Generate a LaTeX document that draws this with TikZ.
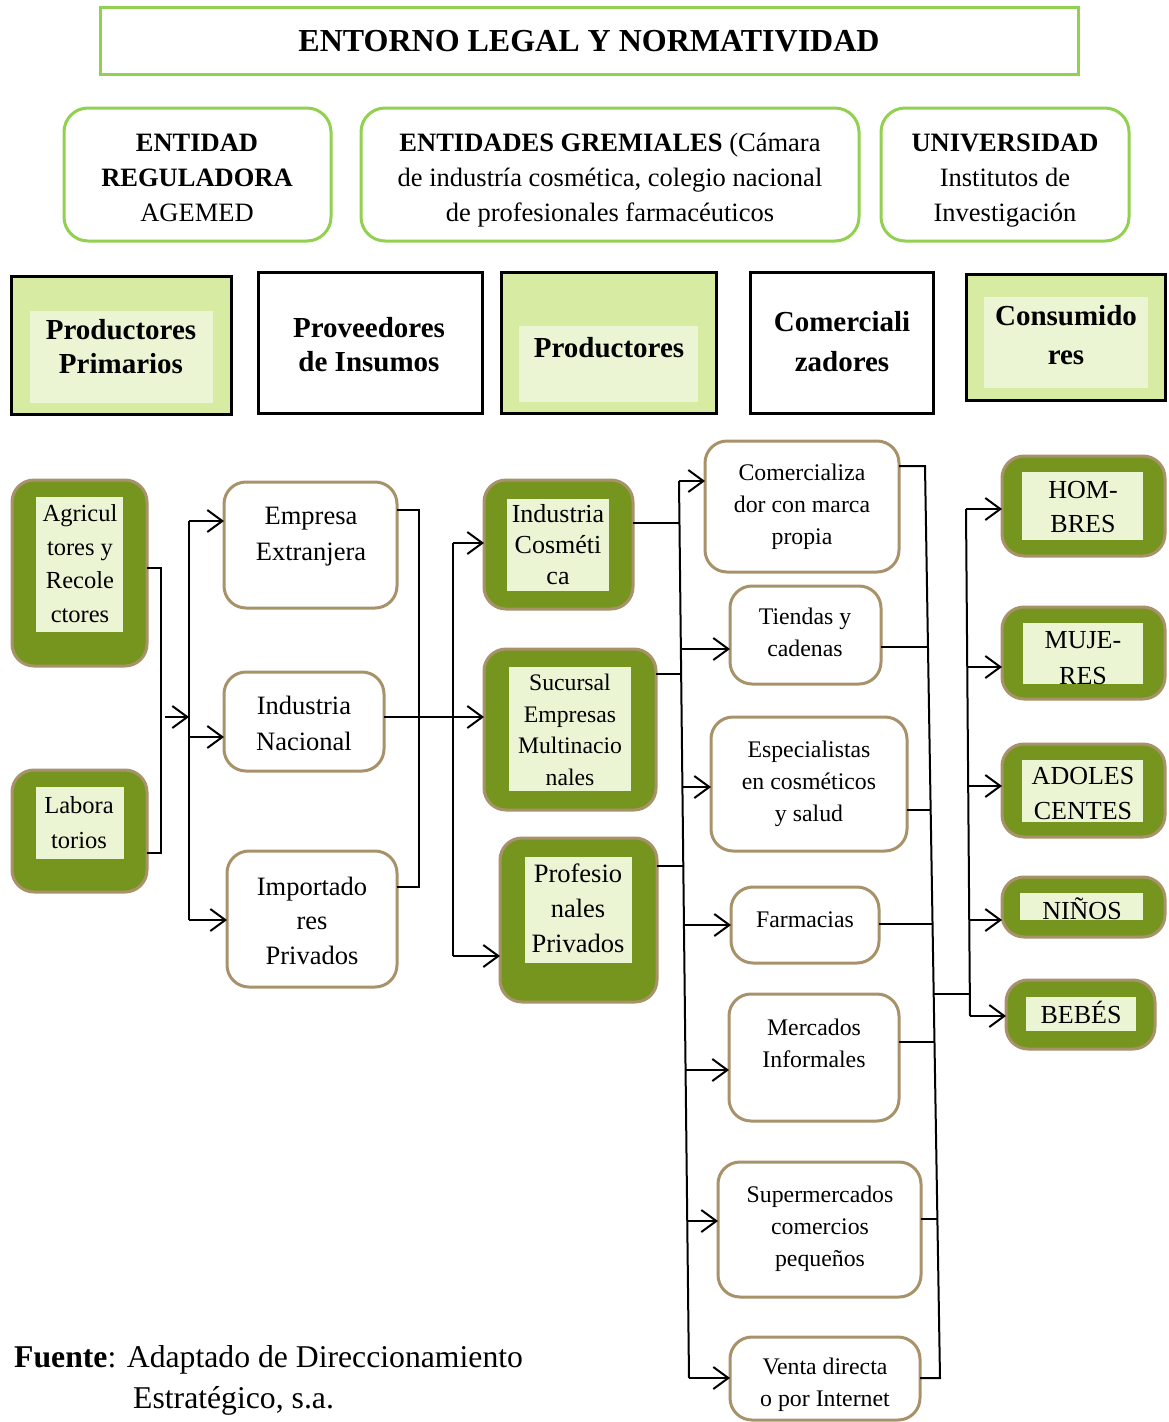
\documentclass[tikz,border=0pt]{standalone}
\usepackage{fontspec}
\setmainfont{Liberation Serif}
\usetikzlibrary{fit,arrows.meta}
\definecolor{lgreen}{HTML}{92D050}
\definecolor{hfill}{HTML}{D7EBA2}
\definecolor{palef}{HTML}{EBF5D3}
\definecolor{olivg}{HTML}{76951F}
\definecolor{tanb}{HTML}{A8926A}
\newcommand\fs[2]{\fontsize{#1}{#2}\selectfont}
\tikzset{
 fitbox/.style={inner sep=0pt, outer sep=0pt},
 titlebox/.style={fitbox, draw=lgreen, line width=3pt},
 entbox/.style={fitbox, draw=lgreen, line width=3pt, rounded corners=24pt, fill=white},
 hdrbox/.style={fitbox, draw=black, line width=3pt, fill=white},
 hdrgreen/.style={hdrbox, fill=hfill},
 palebox/.style={fitbox, fill=palef},
 olivebox/.style={fitbox, draw=tanb, line width=3pt, fill=olivg, rounded corners=22pt},
 whitebox/.style={fitbox, draw=tanb, line width=3pt, fill=white, rounded corners=22pt},
 stxt/.style={inner sep=0pt, align=center, execute at begin node=\strut, execute at end node=\strut},
 txt/.style={stxt, yshift=-3.5pt},
 conn/.style={line width=2pt, draw=black},
 arr/.style={conn, -{Straight Barb[length=15pt,width=22pt]}},
}
\begin{document}
\begin{tikzpicture}[x=1pt,y=-1pt]
\useasboundingbox (0,0) rectangle (1168,1422);
\fill[white] (0,0) rectangle (1168,1422);

% title
\node[titlebox, fit={(100,7)(1078,74)}] (title) {};
\node[txt, font=\fs{32}{38}\bfseries] (title-t) at (589,40) {ENTORNO LEGAL Y NORMATIVIDAD};

% row 2
\node[entbox, fit={(64,108)(331,241)}] (reg) {};
\node[txt, font=\fs{26.5}{35}] (reg-t) at (197,179) {\textbf{ENTIDAD}\\\textbf{REGULADORA}\\AGEMED};
\node[entbox, fit={(361,108)(859,241)}] (gre) {};
\node[txt, font=\fs{26.5}{35}] (gre-t) at (610,179) {\textbf{ENTIDADES GREMIALES} (Cámara\\de industría cosmética, colegio nacional\\de profesionales farmacéuticos};
\node[entbox, fit={(881,108)(1129,241)}] (uni) {};
\node[txt, font=\fs{26.5}{35}] (uni-t) at (1005,179) {\textbf{UNIVERSIDAD}\\Institutos de\\Investigación};

% row 3
\node[hdrgreen, fit={(11,276)(231,414)}] (pp) {};
\node[palebox, fit={(30,311)(213,403)}] (pp-in) {};
\node[txt, font=\fs{29}{34}\bfseries] (pp-t) at (121,348) {Productores\\Primarios};
\node[hdrbox, fit={(258,272)(482,413)}] (pi) {};
\node[txt, font=\fs{29}{34}\bfseries] (pi-t) at (369,346) {Proveedores\\de Insumos};
\node[hdrgreen, fit={(501,272)(716,413)}] (pr) {};
\node[palebox, fit={(519,326)(698,402)}] (pr-in) {};
\node[txt, font=\fs{29}{34}\bfseries] (pr-t) at (609,347) {Productores};
\node[hdrbox, fit={(750,272)(933,413)}] (cz) {};
\node[txt, font=\fs{29}{40}\bfseries] (cz-t) at (842,344) {Comerciali\\zadores};
\node[hdrgreen, fit={(966,274)(1165,400)}] (cs) {};
\node[palebox, fit={(984,297)(1148,388)}] (cs-in) {};
\node[txt, font=\fs{29}{39}\bfseries] (cs-t) at (1066,337) {Consumido\\res};

% column 1
\node[olivebox, fit={(12,480)(147,666)}] (agr) {};
\node[palebox, fit={(36,497)(123,632)}] (agr-in) {};
\node[txt, font=\fs{24.5}{33.7}] (agr-t) at (80,565) {Agricul\\tores y\\Recole\\ctores};
\node[olivebox, fit={(12,770)(147,892)}] (lab) {};
\node[palebox, fit={(36,787)(124,859)}] (lab-in) {};
\node[txt, font=\fs{24.5}{35}] (lab-t) at (79,824) {Labora\\torios};

% column 2
\node[whitebox, fit={(224,482)(397,608)}] (emp) {};
\node[txt, font=\fs{26.5}{36}] (emp-t) at (311,536) {Empresa\\Extranjera};
\node[whitebox, fit={(224,672)(384,771)}] (ind) {};
\node[txt, font=\fs{26.5}{36}] (ind-t) at (304,725) {Industria\\Nacional};
\node[whitebox, fit={(227,851)(397,987)}] (imp) {};
\node[txt, font=\fs{26.5}{34.5}] (imp-t) at (312,922) {Importado\\res\\Privados};

% column 3
\node[olivebox, fit={(484,480)(633,609)}] (cos) {};
\node[palebox, fit={(507,499)(609,591)}] (cos-in) {};
\node[txt, font=\fs{26}{31}] (cos-t) at (558,546) {Industria\\Cosméti\\ca};
\node[olivebox, fit={(484,649)(656,810)}] (suc) {};
\node[palebox, fit={(509,667)(631,791)}] (suc-in) {};
\node[txt, font=\fs{23.7}{31.7}] (suc-t) at (570,731) {Sucursal\\Empresas\\Multinacio\\nales};
\node[olivebox, fit={(500,838)(657,1002)}] (pro) {};
\node[palebox, fit={(525,857)(632,963)}] (pro-in) {};
\node[txt, font=\fs{26.5}{35}] (pro-t) at (578,910) {Profesio\\nales\\Privados};

% column 4
\node[whitebox, fit={(705,441)(899,572)}] (com) {};
\node[txt, font=\fs{23.8}{32}] (com-t) at (802,506) {Comercializa\\dor con marca\\propia};
\node[whitebox, fit={(730,586)(881,684)}] (tie) {};
\node[txt, font=\fs{23.8}{32}] (tie-t) at (805,634) {Tiendas y\\cadenas};
\node[whitebox, fit={(711,717)(907,851)}] (esp) {};
\node[txt, font=\fs{23.8}{32}] (esp-t) at (809,783) {Especialistas\\en cosméticos\\y salud};
\node[whitebox, fit={(731,887)(879,963)}] (far) {};
\node[txt, font=\fs{23.8}{32}] (far-t) at (805,918) {Farmacias};
\node[whitebox, fit={(729,994)(899,1121)}] (mer) {};
\node[txt, font=\fs{23.8}{32}] (mer-t) at (814,1045) {Mercados\\Informales};
\node[whitebox, fit={(718,1162)(921,1297)}] (sup) {};
\node[txt, font=\fs{23.8}{32}] (sup-t) at (820,1228) {Supermercados\\comercios\\pequeños};
\node[whitebox, fit={(730,1337)(920,1420)}] (ven) {};
\node[txt, font=\fs{23.8}{32}] (ven-t) at (825,1384) {Venta directa\\o por Internet};

% column 5
\node[olivebox, fit={(1002,456)(1165,556)}] (hom) {};
\node[palebox, fit={(1022,472)(1143,540)}] (hom-in) {};
\node[txt, font=\fs{26}{34}] (hom-t) at (1083,508) {HOM-\\BRES};
\node[olivebox, fit={(1002,607)(1165,699)}] (muj) {};
\node[palebox, fit={(1023,623)(1143,684)}] (muj-in) {};
\node[txt, font=\fs{26}{36}] (muj-t) at (1083,660) {MUJE-\\RES};
\node[olivebox, fit={(1002,744)(1165,837)}] (ado) {};
\node[palebox, fit={(1022,760)(1143,822)}] (ado-in) {};
\node[txt, font=\fs{26}{35}] (ado-t) at (1083,795) {ADOLES\\CENTES};
\node[olivebox, fit={(1002,877)(1165,937)}] (nin) {};
\node[palebox, fit={(1020,893)(1143,920)}] (nin-in) {};
\node[txt, font=\fs{26}{34}] (nin-t) at (1082,909) {NIÑOS};
\node[olivebox, fit={(1006,980)(1155,1049)}] (beb) {};
\node[palebox, fit={(1026,997)(1136,1031)}] (beb-in) {};
\node[txt, font=\fs{26}{34}] (beb-t) at (1081,1013) {BEBÉS};

% source
\node[stxt, anchor=west, font=\fs{31.7}{41}] (src1) at (14,1359) {\textbf{Fuente}: Adaptado de Direccionamiento};
\node[stxt, anchor=west, font=\fs{31.7}{41}] (src2) at (133,1400) {Estratégico, s.a.};

% connectors: column 1 -> 2
\coordinate (bA1) at (161,568);
\coordinate (bA2) at (161,853);
\draw[conn] (agr.east |- bA1) -- (bA1) -- (bA2) -- (lab.east |- bA2);
\coordinate (jA) at (165,717);
\coordinate (bB) at (189,717);
\draw[arr] (jA) -- (bB);
\coordinate (bB1) at (189,521);
\coordinate (bB2) at (189,920);
\coordinate (bB3) at (189,737);
\draw[conn] (bB1) -- (bB2);
\draw[arr] (bB1) -- (emp.west |- bB1);
\draw[arr] (bB3) -- (ind.west |- bB3);
\draw[arr] (bB2) -- (imp.west |- bB2);

% column 2 -> 3
\coordinate (bC1) at (419,510);
\coordinate (bC2) at (419,887);
\draw[conn] (emp.east |- bC1) -- (bC1) -- (bC2) -- (imp.east |- bC2);
\coordinate (jC) at (419,717);
\draw[arr] (ind.east |- jC) -- (suc.west |- jC);
\coordinate (bD1) at (453,543);
\coordinate (bD2) at (453,956);
\draw[conn] (bD1) -- (bD2);
\draw[arr] (bD1) -- (cos.west |- bD1);
\draw[arr] (bD2) -- (pro.west |- bD2);

% column 3 -> 4
\coordinate (bE1) at (679,481);
\coordinate (bE2) at (689,1378);
\draw[conn] (bE1) -- (bE2);
\coordinate (eA) at (679.5,523);
\coordinate (eB) at (681,674);
\coordinate (eC) at (683,866);
\draw[conn] (cos.east |- eA) -- (eA);
\draw[conn] (suc.east |- eB) -- (eB);
\draw[conn] (pro.east |- eC) -- (eC);
\coordinate (eT) at (680.9,649);
\coordinate (eS) at (682.4,787);
\coordinate (eF) at (684,925);
\coordinate (eM) at (685.6,1070);
\coordinate (eP) at (687.3,1221);
\draw[arr] (bE1) -- (com.west |- bE1);
\draw[arr] (eT) -- (tie.west |- eT);
\draw[arr] (eS) -- (esp.west |- eS);
\draw[arr] (eF) -- (far.west |- eF);
\draw[arr] (eM) -- (mer.west |- eM);
\draw[arr] (eP) -- (sup.west |- eP);
\draw[arr] (bE2) -- (ven.west |- bE2);

% column 4 -> 5
\coordinate (bF1) at (925,466);
\coordinate (bF2) at (940,1378);
\draw[conn] (com.east |- bF1) -- (bF1) -- (bF2) -- (ven.east |- bF2);
\coordinate (fT) at (928,647);
\coordinate (fS) at (930.7,810);
\coordinate (fF) at (932.5,924);
\coordinate (fM) at (934.5,1042);
\coordinate (fP) at (937.4,1219);
\draw[conn] (tie.east |- fT) -- (fT);
\draw[conn] (esp.east |- fS) -- (fS);
\draw[conn] (far.east |- fF) -- (fF);
\draw[conn] (mer.east |- fM) -- (fM);
\draw[conn] (sup.east |- fP) -- (fP);
\coordinate (fJ) at (934,994);
\coordinate (gJ) at (969.5,994);
\draw[conn] (fJ) -- (gJ);
\coordinate (bG1) at (966,509);
\coordinate (bG2) at (970,1016);
\draw[conn] (bG1) -- (bG2);
\coordinate (gM) at (967.2,667);
\coordinate (gA) at (967.9,786);
\coordinate (gN) at (968.9,920);
\draw[arr] (bG1) -- (hom.west |- bG1);
\draw[arr] (gM) -- (muj.west |- gM);
\draw[arr] (gA) -- (ado.west |- gA);
\draw[arr] (gN) -- (nin.west |- gN);
\draw[arr] (bG2) -- (beb.west |- bG2);
\end{tikzpicture}
\end{document}
